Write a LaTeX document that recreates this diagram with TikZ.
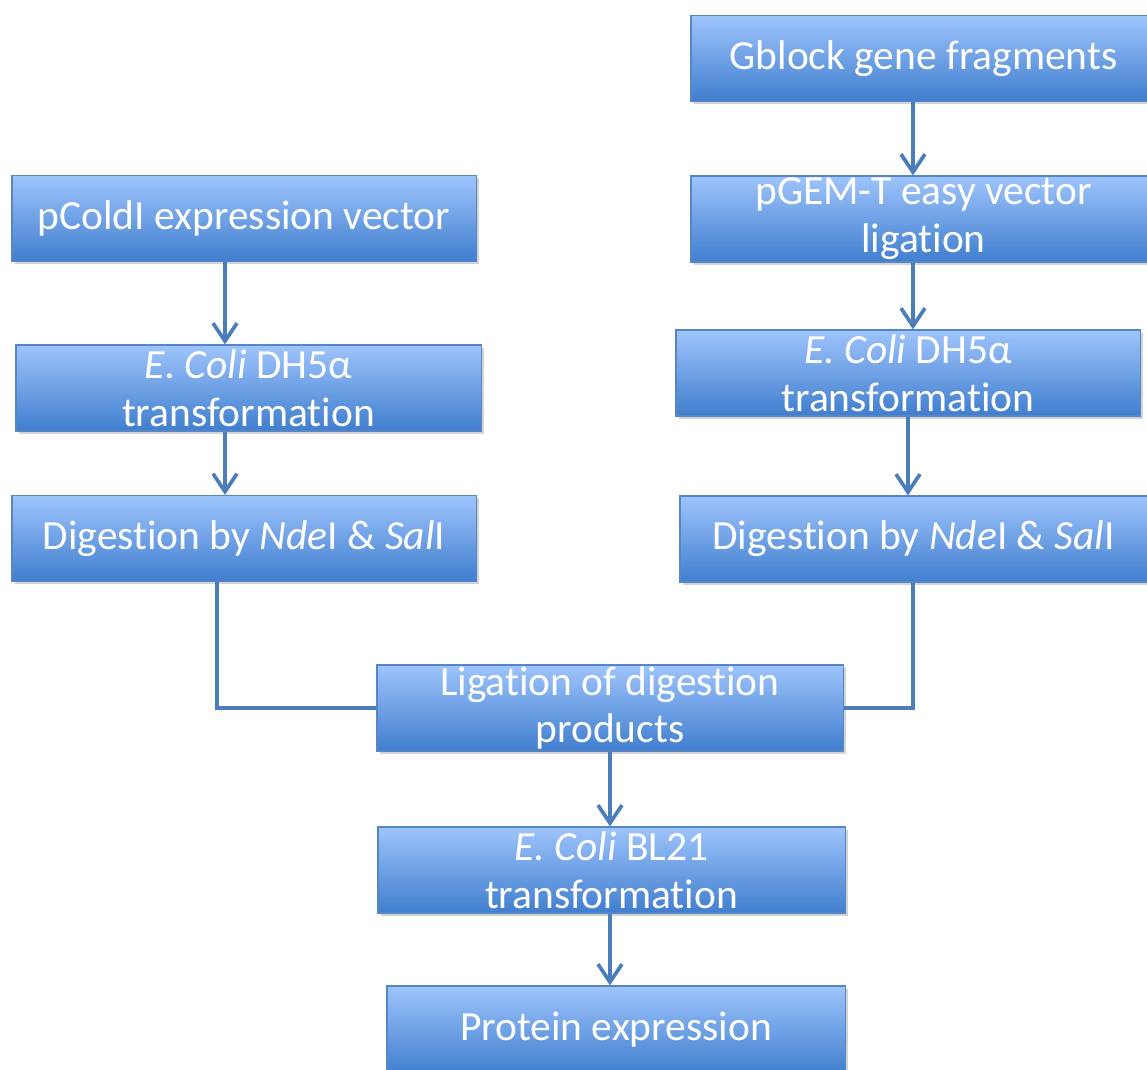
\documentclass[tikz,border=0pt]{standalone}
\usepackage{fontspec}
\setmainfont{Carlito}[Ligatures=NoCommon]
\usetikzlibrary{arrows.meta,shadows}
\definecolor{boxtop}{RGB}{158,196,252}
\definecolor{boxbot}{RGB}{64,126,206}
\definecolor{boxline}{RGB}{86,134,196}
\definecolor{linkblue}{RGB}{74,126,187}

\begin{document}
\begin{tikzpicture}[x=0.025cm, y=-0.025cm,
  stepbox/.style={rectangle, draw=boxline, line width=0.8pt,
    top color=boxtop, bottom color=boxbot,
    minimum width=11.6cm, minimum height=2.15cm, inner sep=0pt,
    align=center, text=white, font=\fontsize{29.5}{34}\selectfont,
    drop shadow={opacity=0.35, shadow xshift=2pt, shadow yshift=-2pt}},
  arr/.style={draw=linkblue, line width=2.6pt,
    -{Straight Barb[length=0.45cm, width=0.6cm]}},
  link/.style={draw=linkblue, line width=2.6pt},
]
\useasboundingbox (0,0) rectangle (1147,1070);

% Left branch
\node[stepbox] (pcold) at (244,218.5) {pColdI expression vector};
\node[stepbox, minimum width=11.625cm] (ecolL) at (248.5,388)
  {\textit{E. Coli} DH5α\\transformation};
\node[stepbox] (digL) at (244,538.5)
  {Digestion by \textit{Nde}I \& \textit{Sal}I};

% Right branch
\node[stepbox, minimum width=11.625cm] (gblock) at (923.5,58.5)
  {Gblock gene fragments};
\node[stepbox, minimum width=11.625cm] (pgem) at (923.5,219)
  {pGEM-T easy vector\\ligation};
\node[stepbox] (ecolR) at (908,373)
  {\textit{E. Coli} DH5α\\transformation};
\node[stepbox, minimum width=11.675cm] (digR) at (913.5,539)
  {Digestion by \textit{Nde}I \& \textit{Sal}I};

% Joined trunk
\node[stepbox, minimum width=11.65cm] (lig) at (610,708)
  {Ligation of digestion\\products};
\node[stepbox, minimum width=11.675cm] (bl21) at (611.5,870)
  {\textit{E. Coli} BL21\\transformation};
\node[stepbox, minimum width=11.45cm, minimum height=2.2cm] (prot) at (616,1030)
  {Protein expression};

% Connector columns
\coordinate (colL) at (225,0);
\coordinate (joinL) at (217,0);
\coordinate (colR) at (913,0);
\coordinate (colM) at (610,0);

\draw[arr] (pcold.south -| colL) -- (ecolL.north -| colL);
\draw[arr] (ecolL.south -| colL) -- (digL.north -| colL);
\draw[arr] (gblock.south -| colR) -- (pgem.north -| colR);
\draw[arr] (pgem.south -| colR) -- (ecolR.north -| colR);
\draw[arr] (ecolR.south) -- (digR.north -| ecolR.south);
\draw[link] (digL.south -| joinL) |- (lig.west);
\draw[link] (digR.south -| colR) |- (lig.east);
\draw[arr] (lig.south -| colM) -- (bl21.north -| colM);
\draw[arr] (bl21.south -| colM) -- (prot.north -| colM);
\end{tikzpicture}
\end{document}
